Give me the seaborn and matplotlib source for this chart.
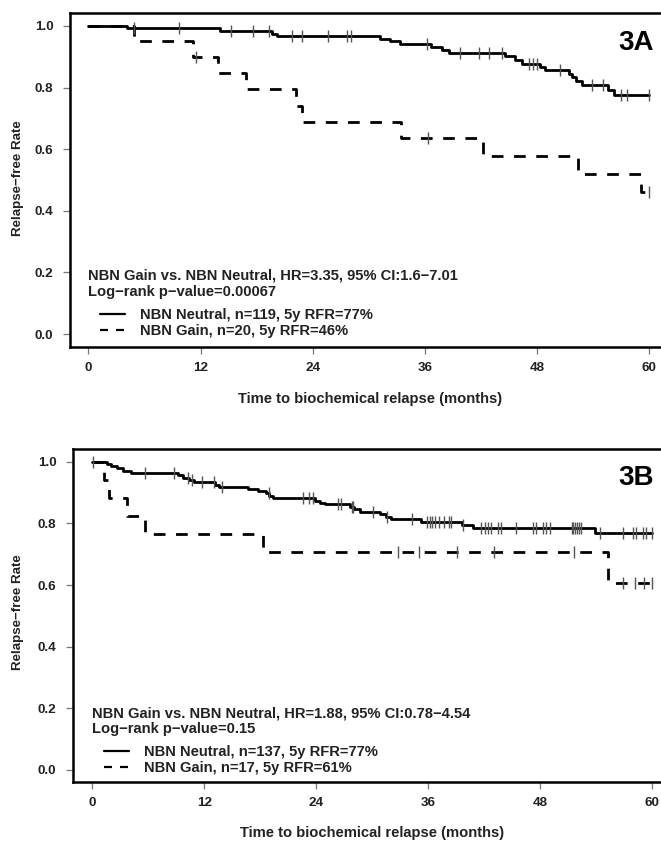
import numpy as np
import pandas as pd
import matplotlib
matplotlib.use("Agg")
import matplotlib.pyplot as plt
from matplotlib.lines import Line2D
import seaborn as sns

# ---------------- data ----------------
# Panel 3A
a_neutral_event_t = [4.1, 14.1, 19.6, 20.2, 31.2, 32.3, 33.3, 36.7, 37.8, 38.6, 44.6, 45.6, 46.4,
                     48.3, 48.9, 51.4, 51.8, 52.2, 52.8, 55.6, 56.2]
a_neutral_event_s = [0.992, 0.984, 0.975, 0.967, 0.959, 0.950, 0.941, 0.931, 0.921, 0.911, 0.901, 0.889, 0.876,
                     0.866, 0.857, 0.845, 0.833, 0.821, 0.808, 0.792, 0.776]
a_neutral_censor_t = [4.9, 9.7, 15.25, 17.6, 19.35, 21.8, 22.9, 25.6, 27.7, 28.1, 36.2, 39.8, 41.8, 42.9,
                      44.3, 47.2, 47.6, 48.0, 50.5, 53.9, 55.1, 57.0, 57.6, 60.0]
a_gain_event_t = [4.9, 11.2, 13.9, 16.9, 22.2, 22.8, 33.5, 42.2, 52.4, 59.1]
a_gain_event_s = [0.950, 0.900, 0.847, 0.794, 0.741, 0.688, 0.635, 0.577, 0.519, 0.462]
a_gain_censor_t = [11.5, 36.3, 60.0]

# Panel 3B
b_neutral_event_t = [1.6, 2.0, 2.6, 3.3, 4.2, 9.2, 9.7, 10.4, 10.9, 13.2, 13.6, 16.7, 17.8, 18.6, 19.0,
                     19.4, 23.9, 24.4, 25.0, 27.6, 28.1, 28.7, 30.8, 31.5, 32.0, 35.3, 39.6, 40.8, 53.9]
b_neutral_event_s = [0.993, 0.985, 0.978, 0.971, 0.963, 0.956, 0.948, 0.941, 0.933, 0.926, 0.919, 0.912,
                     0.905, 0.897, 0.889, 0.882, 0.874, 0.867, 0.862, 0.852, 0.845, 0.838, 0.830, 0.822,
                     0.813, 0.805, 0.794, 0.784, 0.769]
b_neutral_censor_t = [0.1, 5.7, 8.8, 10.3, 10.7, 11.8, 13.0, 13.9, 18.9, 22.6, 23.2, 23.7, 26.3, 26.7,
                      27.8, 28.0, 30.1, 31.6, 34.3, 35.9, 36.2, 36.4, 36.7, 37.2, 37.7, 38.2, 38.5, 39.8,
                      41.7, 42.1, 42.4, 42.8, 43.5, 43.8, 45.4, 47.3, 47.6, 48.3, 48.7, 49.1, 51.4, 51.6,
                      51.8, 52.0, 52.2, 52.4, 54.4, 56.9, 58.0, 58.3, 59.1, 59.4, 60.0]
b_gain_event_t = [1.3, 1.8, 3.7, 5.65, 18.3, 55.3]
b_gain_event_s = [0.941, 0.882, 0.824, 0.765, 0.706, 0.605]
b_gain_censor_t = [32.8, 35.0, 39.1, 43.1, 51.7, 56.9, 58.2, 59.2, 60.0]

groups = ["NBN Neutral", "NBN Gain"]
a_header = ["NBN Gain vs. NBN Neutral, HR=3.35, 95% CI:1.6\u22127.01", "Log\u2212rank p\u2212value=0.00067"]
b_header = ["NBN Gain vs. NBN Neutral, HR=1.88, 95% CI:0.78\u22124.54", "Log\u2212rank p\u2212value=0.15"]
a_legend = ["NBN Neutral, n=119, 5y RFR=77%", "NBN Gain, n=20, 5y RFR=46%"]
b_legend = ["NBN Neutral, n=137, 5y RFR=77%", "NBN Gain, n=17, 5y RFR=61%"]
x_ticks = [0, 12, 24, 36, 48, 60]
y_ticks = [0.0, 0.2, 0.4, 0.6, 0.8, 1.0]
x_label = "Time to biochemical relapse (months)"
y_label = "Relapse\u2212free Rate"
panel_labels = ["3A", "3B"]
t_end = 60.0

# ---------------- style ----------------
sns.set_theme(style="ticks")
plt.rcParams["font.family"] = ["Liberation Sans", "DejaVu Sans"]
plt.rcParams["font.weight"] = "bold"

W, H = 661, 844
fig = plt.figure(figsize=(W / 100, H / 100), dpi=100)
fig.patch.set_facecolor("white")

TXT = 10.6


def fx(x):
    return x / W


def fy(y):
    return 1 - y / H


def step_table(ev_t, ev_s, name):
    t = [0.0] + list(ev_t) + [t_end]
    s = [1.0] + list(ev_s) + [ev_s[-1]]
    return pd.DataFrame({"time": t, "surv": s, "group": name})


def surv_at(ev_t, ev_s, tt):
    t = np.array([0.0] + list(ev_t))
    s = np.array([1.0] + list(ev_s))
    idx = np.searchsorted(t, np.asarray(tt), side="right") - 1
    return s[idx]


DASH = (4.2, 3.8)


def draw_panel(box, xlim, ylim, neu, gain, header, legend_labels, hdr_px, leg_px, lab_px, plabel):
    ax = fig.add_axes(box)
    ax.set_facecolor("white")
    df = pd.concat([step_table(neu[0], neu[1], groups[0]),
                    step_table(gain[0], gain[1], groups[1])], ignore_index=True)
    sns.lineplot(data=df, x="time", y="surv", hue="group", style="group",
                 palette={groups[0]: "black", groups[1]: "black"},
                 dashes={groups[0]: "", groups[1]: DASH},
                 estimator=None, sort=False, drawstyle="steps-post",
                 linewidth=2.0, legend=False, ax=ax)
    for ev_t, ev_s, cen in [(neu[0], neu[1], neu[2]), (gain[0], gain[1], gain[2])]:
        cdf = pd.DataFrame({"time": cen, "surv": surv_at(ev_t, ev_s, cen)})
        sns.scatterplot(data=cdf, x="time", y="surv", marker="|", s=75,
                        color="#555555", linewidth=1.0, ax=ax, zorder=3)
    ax.set_xlim(*xlim)
    ax.set_ylim(*ylim)
    ax.set_xticks(x_ticks)
    ax.set_xticklabels([str(v) for v in x_ticks])
    ax.set_yticks(y_ticks)
    ax.set_yticklabels([f"{v:.1f}" for v in y_ticks])
    ax.tick_params(axis="both", direction="out", length=5, width=0.9, color="#777777",
                   labelsize=9.7, labelcolor="#222222")
    ax.tick_params(axis="x", pad=6)
    ax.tick_params(axis="y", pad=7)
    for lbl in ax.get_xticklabels() + ax.get_yticklabels():
        lbl.set_fontweight("bold")
    for sp in ax.spines.values():
        sp.set_visible(True)
        sp.set_color("black")
        sp.set_linewidth(1.8)
    ax.set_xlabel("")
    ax.set_ylabel("")

    # header lines
    fig.text(fx(hdr_px[0]), fy(hdr_px[1]), header[0], ha="left", va="center",
             fontsize=TXT, color="#222222", fontweight="bold")
    fig.text(fx(hdr_px[0]), fy(hdr_px[2]), header[1], ha="left", va="center",
             fontsize=TXT, color="#222222", fontweight="bold")
    # legend
    handles = [Line2D([], [], color="black", lw=1.6),
               Line2D([], [], color="black", lw=1.6, linestyle=(0, (3.6, 3.6)))]
    leg = ax.legend(handles, legend_labels, frameon=False, loc="center left",
                    bbox_to_anchor=(fx(leg_px[0]), fy(leg_px[1])), bbox_transform=fig.transFigure,
                    fontsize=TXT, handlelength=1.7, handletextpad=1.0, labelspacing=0.15,
                    borderpad=0, borderaxespad=0)
    for t in leg.get_texts():
        t.set_color("#222222")
        t.set_fontweight("bold")
    # axis labels
    fig.text(fx(lab_px[0]), fy(lab_px[1]), x_label, ha="center", va="center",
             fontsize=TXT, color="#222222", fontweight="bold")
    fig.text(fx(18), fy(lab_px[2]), y_label, ha="center", va="center", rotation=90,
             fontsize=9.6, color="#222222", fontweight="bold")
    # panel label
    fig.text(fx(636), fy(lab_px[3]), plabel, ha="center", va="center",
             fontsize=20, color="black", fontweight="bold")
    return ax


# Panel A: box 70..671 px horizontally, 13..347 px vertically
draw_panel([fx(70), fy(347), (671.4 - 70) / W, (347 - 13) / H],
           (-1.98, 62.39), (-0.0422, 1.0422),
           (a_neutral_event_t, a_neutral_event_s, a_neutral_censor_t),
           (a_gain_event_t, a_gain_event_s, a_gain_censor_t),
           a_header, a_legend,
           (88, 276, 292), (100, 323), (370, 399, 178, 43), panel_labels[0])

# Panel B: box 73..671 px horizontally, 449..782 px vertically
draw_panel([fx(73), fy(781.7), (671.4 - 73) / W, (781.7 - 449) / H],
           (-2.07, 62.1), (-0.038, 1.0412),
           (b_neutral_event_t, b_neutral_event_s, b_neutral_censor_t),
           (b_gain_event_t, b_gain_event_s, b_gain_censor_t),
           b_header, b_legend,
           (92, 713, 729), (104, 760), (372, 833, 612, 478), panel_labels[1])

fig.savefig("out.png", dpi=100)
